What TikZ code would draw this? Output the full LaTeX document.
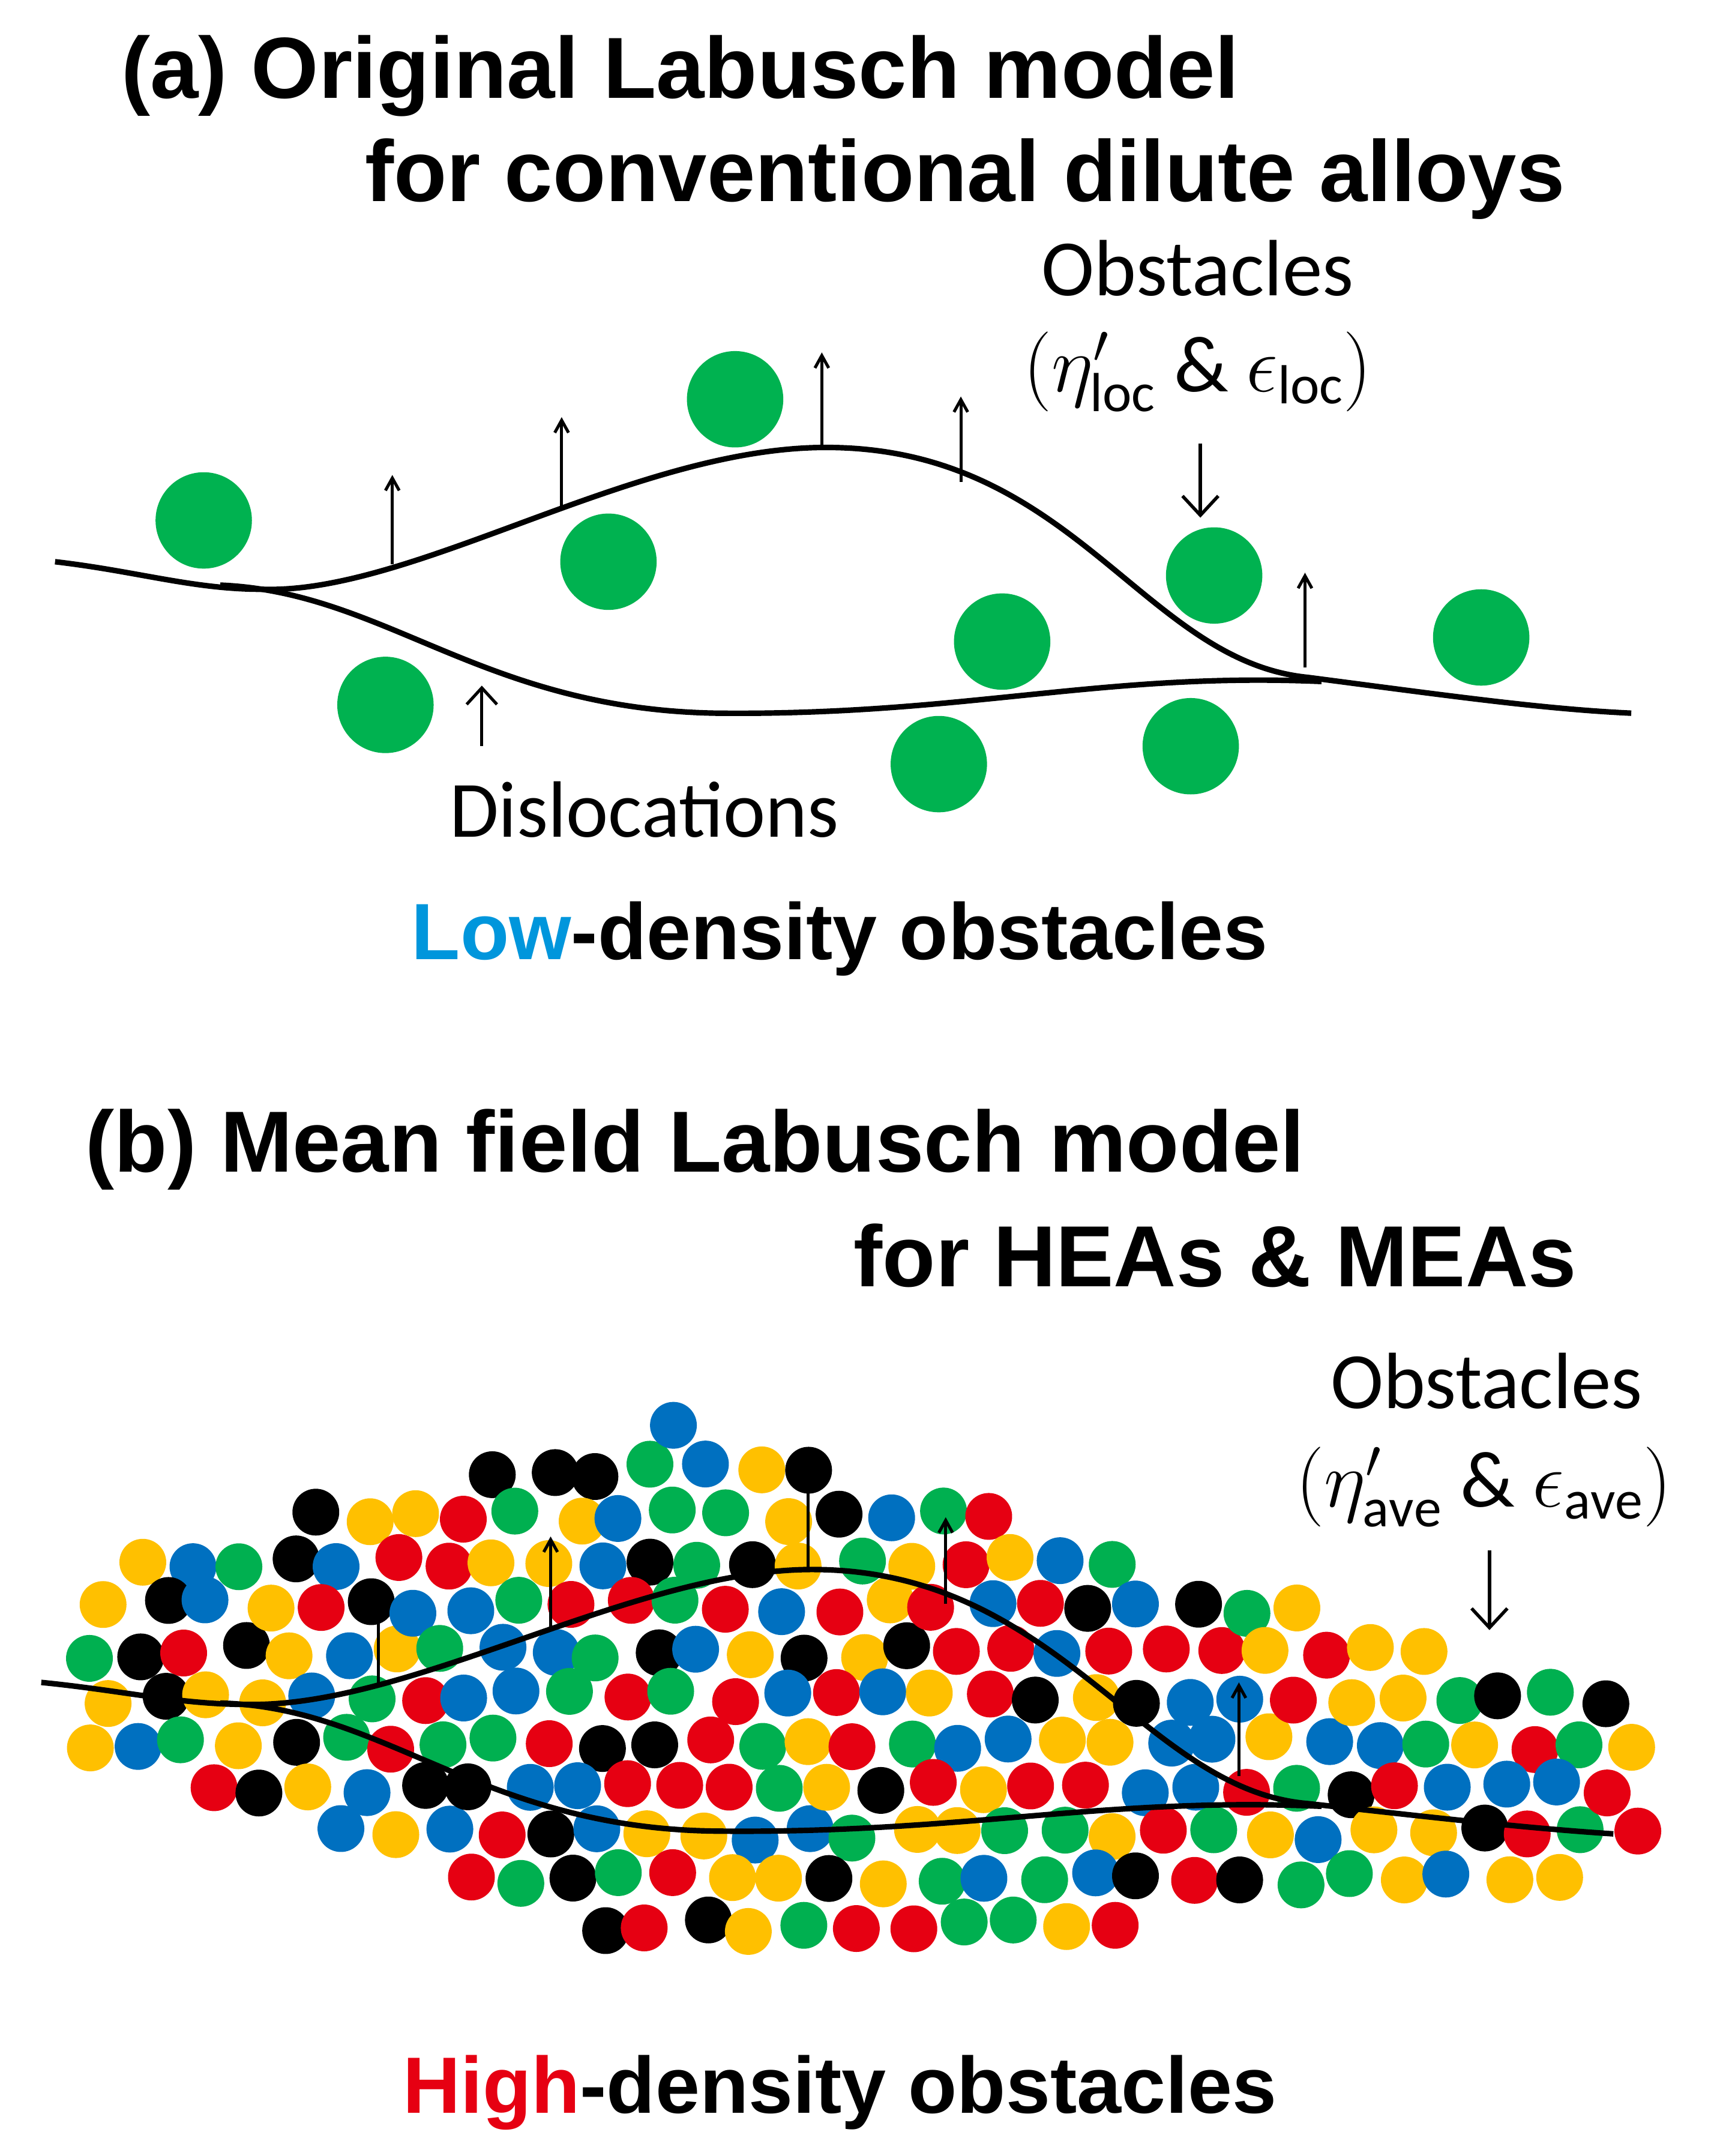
\RequirePackage{fix-cm}
\documentclass[tikz,border=0pt]{standalone}
\usepackage{fontspec}
\setmainfont{Carlito}
\newfontfamily\tfont{Liberation Sans}
\usetikzlibrary{arrows.meta}
\definecolor{gr}{RGB}{0,178,80}
\definecolor{col1}{RGB}{230,0,18}
\definecolor{col2}{RGB}{0,0,0}
\definecolor{col3}{RGB}{0,112,192}
\definecolor{col4}{RGB}{255,192,0}
\definecolor{col5}{RGB}{0,176,80}
\definecolor{lblue}{RGB}{0,150,220}
\DeclareMathSizes{58}{58}{40}{30}
\begin{document}
\begin{tikzpicture}[x=1pt,y=-1pt,
  title/.style={font=\tfont\bfseries\fontsize{63}{70}\selectfont,anchor=west,inner sep=0},
  sub/.style={font=\tfont\bfseries\fontsize{58}{64}\selectfont,anchor=center,inner sep=0},
  lab/.style={font=\fontsize{58}{64}\selectfont,inner sep=0},
  disl/.style={line width=4pt},
  up/.style={-{Straight Barb[length=9pt,width=10pt]},line width=2.2pt},
  big/.style={-{Straight Barb[length=14pt,width=26pt]},line width=2.4pt},
  obs/.style={gr}]
\useasboundingbox (0,0) rectangle (1245,1566);
% ---- panel (a)
\node[title] (ta1) at (88,55) {(a) Original Labusch model};
\node[title] (ta2) at (265,130) {for conventional dilute alloys};
\foreach \x/\y [count=\k] in {148/378,442/408,534/290,280/512,728/466,882/418,1076/463,682/555,865/542}
  \fill[obs] (\x,\y) circle[radius=35pt];
\draw[disl] (40,408) .. controls (100,415) and (140,428) .. (190,428)
  .. controls (300,432) and (460,325) .. (600,325)
  .. controls (780,325) and (830,480) .. (950,492)
  .. controls (1050,505) and (1120,515) .. (1185,518);
\draw[disl] (160,425) .. controls (280,430) and (350,515) .. (520,518)
  .. controls (700,520) and (800,488) .. (960,495);
\foreach \x/\a/\b [count=\k] in {285/410/345,408/368/303,597/323/256,698/350/288,948/485/416}{
  \coordinate (as\k) at (\x,\a); \coordinate (ae\k) at (\x,\b);
  \draw[up] (as\k) -- (ae\k);}
\coordinate (d1) at (350,542); \coordinate (d2) at (350,498);
\draw[up,-{Straight Barb[length=12pt,width=22pt]}] (d1) -- (d2);
\coordinate (o1) at (872,322); \coordinate (o2) at (872,376);
\draw[big] (o1) -- (o2);
\node[lab] (obsa) at (870,195) {Obstacles};
\node[lab] (eqa) at (870,270) {$(\eta'_{\mathrm{loc}}\ \&\ \epsilon_{\mathrm{loc}})$};
\node[lab] (dis) at (468,588) {Dislocations};
\node[sub] (lowd) at (610,682) {\textcolor{lblue}{Low}-density obstacles};
% ---- panel (b)
\node[title] (tb1) at (62,835) {(b) Mean field Labusch model};
\node[title] (tb2) at (620,912) {for HEAs \& MEAs};
\pgfmathsetseed{11}
\foreach \i in {0,...,31}{
 \foreach \j in {0,...,12}{
  \pgfmathsetmacro\px{42+\i*37.5+mod(\j,2)*18.75+rand*6}
  \pgfmathsetmacro\py{1035+\j*33+rand*5}
  \pgfmathsetmacro\tp{\px<500 ? 1140-(\px-50)/450*110 : 1030+(\px-500)/690*210}
  \pgfmathsetmacro\bt{\px<500 ? 1265+(\px-50)/450*165 : 1430-(\px-500)/690*70}
  \pgfmathtruncatemacro\ok{and(and(\py>\tp,\py<\bt),and(\px<1195,\px>45)) ? 1 : 0}
  \pgfmathtruncatemacro\c{random(1,5)}
  \ifnum\ok=1 \fill[col\c] (\px,\py) circle[radius=17pt]; \fi
 }}
\draw[disl] (30,1222) .. controls (90,1228) and (130,1238) .. (180,1238)
  .. controls (300,1240) and (460,1140) .. (590,1140)
  .. controls (770,1140) and (830,1300) .. (950,1310)
  .. controls (1040,1320) and (1110,1328) .. (1172,1332);
\draw[disl] (160,1237) .. controls (280,1240) and (350,1328) .. (520,1330)
  .. controls (700,1332) and (800,1305) .. (960,1312);
\foreach \x/\a/\b [count=\k] in {275/1225/1158,400/1185/1116,587/1140/1072,687/1165/1102,900/1290/1222}{
  \coordinate (bs\k) at (\x,\a); \coordinate (be\k) at (\x,\b);
  \draw[up] (bs\k) -- (be\k);}
\coordinate (p1) at (1082,1126); \coordinate (p2) at (1082,1184);
\draw[big] (p1) -- (p2);
\node[lab] (obsb) at (1080,1003) {Obstacles};
\node[lab] (eqb) at (1078,1080) {$(\eta'_{\mathrm{ave}}\ \&\ \epsilon_{\mathrm{ave}})$};
\node[sub] (highd) at (610,1520) {\textcolor{col1}{High}-density obstacles};
\end{tikzpicture}
\end{document}
